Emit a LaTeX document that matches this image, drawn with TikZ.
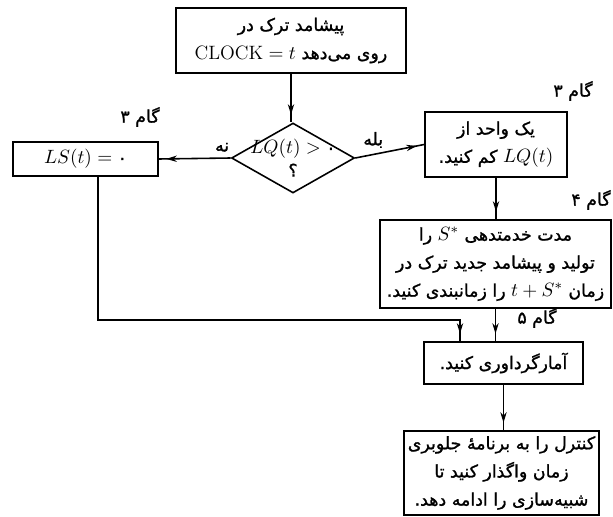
\documentclass[tikz,border=0pt]{standalone}
\usepackage{fontspec}
\usepackage{tikz}
\usetikzlibrary{shapes.geometric, arrows.meta, decorations.markings}
\TeXXeTstate=1
\newfontfamily\fa[Script=Arabic, Scale=0.9, FakeBold=1.2]{DejaVu Sans}
\newcommand{\rl}[1]{{\fa\beginR #1\endR}}

\begin{document}
\begin{tikzpicture}[x=0.02cm, y=-0.02cm, font=\fontsize{11}{16}\selectfont,
    box/.style={draw, line width=0.9pt, align=center, inner sep=2pt},
    decision/.style={draw, diamond, line width=0.9pt, inner sep=0pt},
    flow/.style={line width=0.9pt, postaction={decorate},
        decoration={markings, mark=at position -0.15cm with {\arrow{Stealth[length=6pt, width=3.6pt]}}}},
    steplbl/.style={inner sep=1pt}]
    \useasboundingbox (0,0) rectangle (613,517);

    \node[box, minimum width=4.6cm, minimum height=1.3cm] (ev) at (291,40.5)
        {\rl{پیشامد ترک در}\\ \rl{روی می‌دهد $\mathrm{CLOCK}=t$}};
    \node[decision, minimum width=2.46cm, minimum height=1.4cm] (test) at (293,158) {};
    \node[align=center, inner sep=0pt] (testtxt) at (test) {$LQ(t) > \mbox{\fa ۰}$\\[-3pt] {\fa ؟}};
    \node[box, minimum width=2.9cm, minimum height=0.68cm] (ls) at (85.5,159) {$LS(t) = \mbox{\fa ۰}$};
    \node[box, minimum width=2.84cm, minimum height=1.3cm] (dec) at (496,144.5)
        {\rl{یک واحد از}\\ \rl{$LQ(t)$ کم کنید.}};
    \node[box, minimum width=4.62cm, minimum height=1.76cm] (gen) at (495.5,264)
        {\rl{مدت خدمتدهی $S^*$ را}\\ \rl{تولید و پیشامد جدید ترک در}\\ \rl{زمان $t+S^*$ را زمانبندی کنید.}};
    \node[box, minimum width=3.18cm, minimum height=0.84cm] (stat) at (503.5,363) {\rl{آمارگرداوری کنید.}};
    \node[box, minimum width=3.9cm, minimum height=1.68cm] (fin) at (501.5,473)
        {\rl{کنترل را به برنامهٔ جلوبری}\\ \rl{زمان واگذار کنید تا}\\ \rl{شبیه‌سازی را ادامه دهد.}};

    % step labels
    \node[steplbl] (s3a) at (140,117) {\rl{گام ۳}};
    \node[steplbl] (s3b) at (573,91) {\rl{گام ۳}};
    \node[steplbl] (s4) at (591,200) {\rl{گام ۴}};
    \node[steplbl] (s5) at (537,318) {\rl{گام ۵}};

    \coordinate (merge) at (460,320);
    \draw[flow] (ev.south) -- (ev.south |- test.north);
    \draw[flow] (test.west) -- node[pos=0.12, above] {\rl{نه}} (ls.east);
    \draw[flow] (test.east) -- node[pos=0.26, above] {\rl{بله}} (dec.west);
    \draw[flow] (dec.south) -- (dec.south |- gen.north);
    \draw[flow] (gen.south) -- (gen.south |- stat.north);
    \draw[flow] ([xshift=0.25cm]ls.south) |- (merge) -- (merge |- stat.north);
    \draw[flow] (stat.south) -- (stat.south |- fin.north);
\end{tikzpicture}
\end{document}
